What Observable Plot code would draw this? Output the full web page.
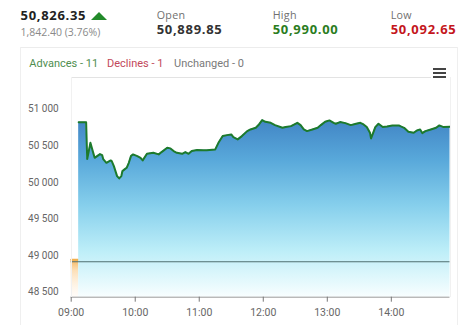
<!DOCTYPE html>
<html><head><meta charset="utf-8">
<script src="https://cdn.jsdelivr.net/npm/d3@7"></script>
<script src="https://cdn.jsdelivr.net/npm/@observablehq/plot@0.6"></script>
<style>
html,body{margin:0;padding:0;background:#fff;}
#wrap{position:relative;width:474px;height:325px;overflow:hidden;background:#fff;}
.t{position:absolute;white-space:nowrap;line-height:1;}
.b{position:absolute;}
#chart{position:absolute;left:0;top:0;}
</style></head><body><div id="wrap"><div id="chart"></div></div>
<script>
// ---- data ----
const lastPrice = "50,826.35";
const change = "1,842.40 (3.76%)";
const statLabels = ["Open", "High", "Low"];
const statValues = ["50,889.85", "50,990.00", "50,092.65"];
const breadthLabels = ["Advances - 11", "Declines - 1", "Unchanged - 0"];
const prevClose = 48983.95;
const preTimes = ["09:00", "09:07"];
const preValues = [49010, 49010];
const times = ["09:07","09:14","09:15","09:18","09:21","09:22","09:27","09:29","09:30","09:33","09:37","09:38","09:40","09:43","09:45","09:47","09:48","09:50","09:52","09:54","09:56","09:58","10:02","10:05","10:07","10:11","10:17","10:22","10:25","10:30","10:33","10:36","10:39","10:44","10:47","10:50","10:53","10:58","11:04","11:07","11:15","11:18","11:22","11:26","11:30","11:32","11:36","11:40","11:45","11:48","11:53","11:56","11:59","12:02","12:07","12:11","12:18","12:21","12:26","12:32","12:35","12:38","12:41","12:46","12:51","12:54","12:58","13:02","13:06","13:08","13:12","13:17","13:22","13:27","13:31","13:34","13:37","13:40","13:41","13:43","13:45","13:48","13:52","13:56","14:01","14:07","14:09","14:12","14:16","14:21","14:24","14:27","14:29","14:32","14:37","14:42","14:45","14:49","14:55"];
const values = [50890,50890,50386,50608,50454,50403,50454,50440,50386,50335,50368,50358,50290,50154,50122,50154,50222,50245,50267,50335,50427,50450,50427,50403,50368,50458,50472,50450,50485,50540,50532,50495,50472,50458,50481,50458,50495,50509,50505,50505,50518,50608,50700,50713,50723,50686,50655,50700,50768,50791,50813,50859,50918,50895,50881,50850,50813,50823,50836,50881,50850,50791,50768,50791,50813,50850,50895,50914,50881,50868,50891,50877,50850,50868,50881,50859,50823,50745,50668,50745,50823,50868,50823,50832,50846,50846,50832,50813,50758,50745,50777,50791,50741,50768,50791,50813,50846,50823,50826];
const yTicks = [48500, 49000, 49500, 50000, 50500, 51000];
const xTickLabels = ["09:00", "10:00", "11:00", "12:00", "13:00", "14:00"];
const xDomain = ["09:00", "14:55"];
const yDomain = [48500, 51500];

// ---- build ----
const parse = d3.timeParse("%H:%M");
const series = times.map((t, i) => ({t: parse(t), v: values[i]}));
const pre = preTimes.map((t, i) => ({t: parse(t), v: preValues[i]}));
const wrap = document.getElementById("wrap");

function text(str, x, baseline, size, weight, color, family, spacing) {
  const d = document.createElement("div");
  d.className = "t";
  d.textContent = str;
  const k = family === "Roboto" ? 0.842 : 0.888;
  d.style.cssText = `left:${x}px;top:${baseline - k*size}px;font-size:${size}px;font-weight:${weight};color:${color};font-family:${family};letter-spacing:${spacing||0}px;`;
  wrap.appendChild(d);
}
function box(x, y, w, h, color) {
  const d = document.createElement("div");
  d.className = "b";
  d.style.cssText = `left:${x}px;top:${y}px;width:${w}px;height:${h}px;background:${color};`;
  wrap.appendChild(d);
}

const fmt = d => d3.format(",")(d).replace(/,/g, " ");
const plot = Plot.plot({
  width: 474, height: 325,
  marginLeft: 70.7, marginRight: 24.5, marginTop: 77, marginBottom: 28.3,
  style: {background: "transparent", fontFamily: "Roboto", overflow: "visible"},
  x: {type: "time", domain: xDomain.map(parse)},
  y: {domain: yDomain},
  marks: [
    Plot.areaY(pre, {x: "t", y1: yDomain[0], y2: "v", fill: "url(#preGrad)"}),
    Plot.lineY(pre, {x: "t", y: "v", stroke: "#f2b04e", strokeWidth: 2}),
    Plot.areaY(series, {x: "t", y1: yDomain[0], y2: "v", fill: "url(#blueGrad)"}),
    Plot.ruleY([prevClose], {x1: parse(xDomain[0]), x2: parse(xDomain[1]), stroke: "#4f6f70", strokeWidth: 1}),
    Plot.lineY(series, {x: "t", y: "v", stroke: "#1d7a2c", strokeWidth: 2, strokeLinejoin: "round"}),
    Plot.ruleY([yDomain[0]], {stroke: "#9a9a9a", strokeWidth: 1}),
    Plot.axisY({ticks: yTicks, tickSize: 0, tickPadding: 12.5, dy: -5, tickFormat: fmt, fill: "#666", fontSize: 10, label: null}),
    Plot.axisX({ticks: xTickLabels.map(parse), tickSize: 5, tickPadding: 6, stroke: "#777", fill: "#666", fontSize: 10.5, tickFormat: d3.timeFormat("%H:%M"), label: null})
  ]
});
document.getElementById("chart").appendChild(plot);

// gradients
const ys = plot.scale("y");
const ns = "http://www.w3.org/2000/svg";
const defs = document.createElementNS(ns, "defs");
function grad(id, y1, y2, stops) {
  const g = document.createElementNS(ns, "linearGradient");
  g.setAttribute("id", id);
  g.setAttribute("gradientUnits", "userSpaceOnUse");
  g.setAttribute("x1", 0); g.setAttribute("x2", 0);
  g.setAttribute("y1", y1); g.setAttribute("y2", y2);
  for (const [o, c, a] of stops) {
    const s = document.createElementNS(ns, "stop");
    s.setAttribute("offset", o); s.setAttribute("stop-color", c); s.setAttribute("stop-opacity", a);
    g.appendChild(s);
  }
  defs.appendChild(g);
}
grad("blueGrad", ys.apply(51000), ys.apply(48500), [[0, "#3e80c2", 1], [0.25, "#58a8da", 1], [0.5, "#86cfec", 1], [0.75, "#bdeef8", 1], [1, "#f8feff", 1]]);
grad("preGrad", ys.apply(49010), ys.apply(48500), [[0, "#f6b65c", 1], [0.3, "#fcdcb0", 0.9], [1, "#fff6ea", 0.3]]);
plot.insertBefore(defs, plot.firstChild);

// panel borders
box(20, 47, 437, 1, "#ececec");
box(20, 47, 1, 278, "#efefef");
box(456.5, 47, 1, 278, "#efefef");
box(70.5, 77, 360, 1, "#e3e3e3");
box(70.5, 77, 1, 220, "#f1f1f1");
box(449.5, 77, 1, 220, "#f1f1f1");
// hamburger
box(433.3, 68, 13, 2, "#444");
box(433.3, 72, 13, 2, "#444");
box(433.3, 76, 13, 2, "#444");

// header
text(lastPrice, 20.5, 20.7, 13, 700, "#222", "Open Sans", 0.7);
const tri = document.createElement("div");
tri.style.cssText = "position:absolute;left:90.7px;top:12.3px;width:0;height:0;border-left:8.8px solid transparent;border-right:8.8px solid transparent;border-bottom:8.4px solid #228a2a;";
wrap.appendChild(tri);
text(change, 20.5, 36.7, 10.5, 400, "#8a8a8a", "Open Sans", 0);
const sx = [156.7, 272.7, 390.7];
const sc = ["#333", "#2b7d1e", "#c4161c"];
statLabels.forEach((l, i) => text(l, sx[i], 19.3, 10.7, 400, "#707070", "Open Sans", 0.3));
statValues.forEach((v, i) => text(v, sx[i], 35, 13, 700, sc[i], "Open Sans", 0.7));
const bx = [29.3, 107, 174];
const bc = ["#4f8e4f", "#c2485a", "#7a7a7a"];
breadthLabels.forEach((l, i) => text(l, bx[i], 67, 11, 400, bc[i], "Roboto", 0));
</script></body></html>
